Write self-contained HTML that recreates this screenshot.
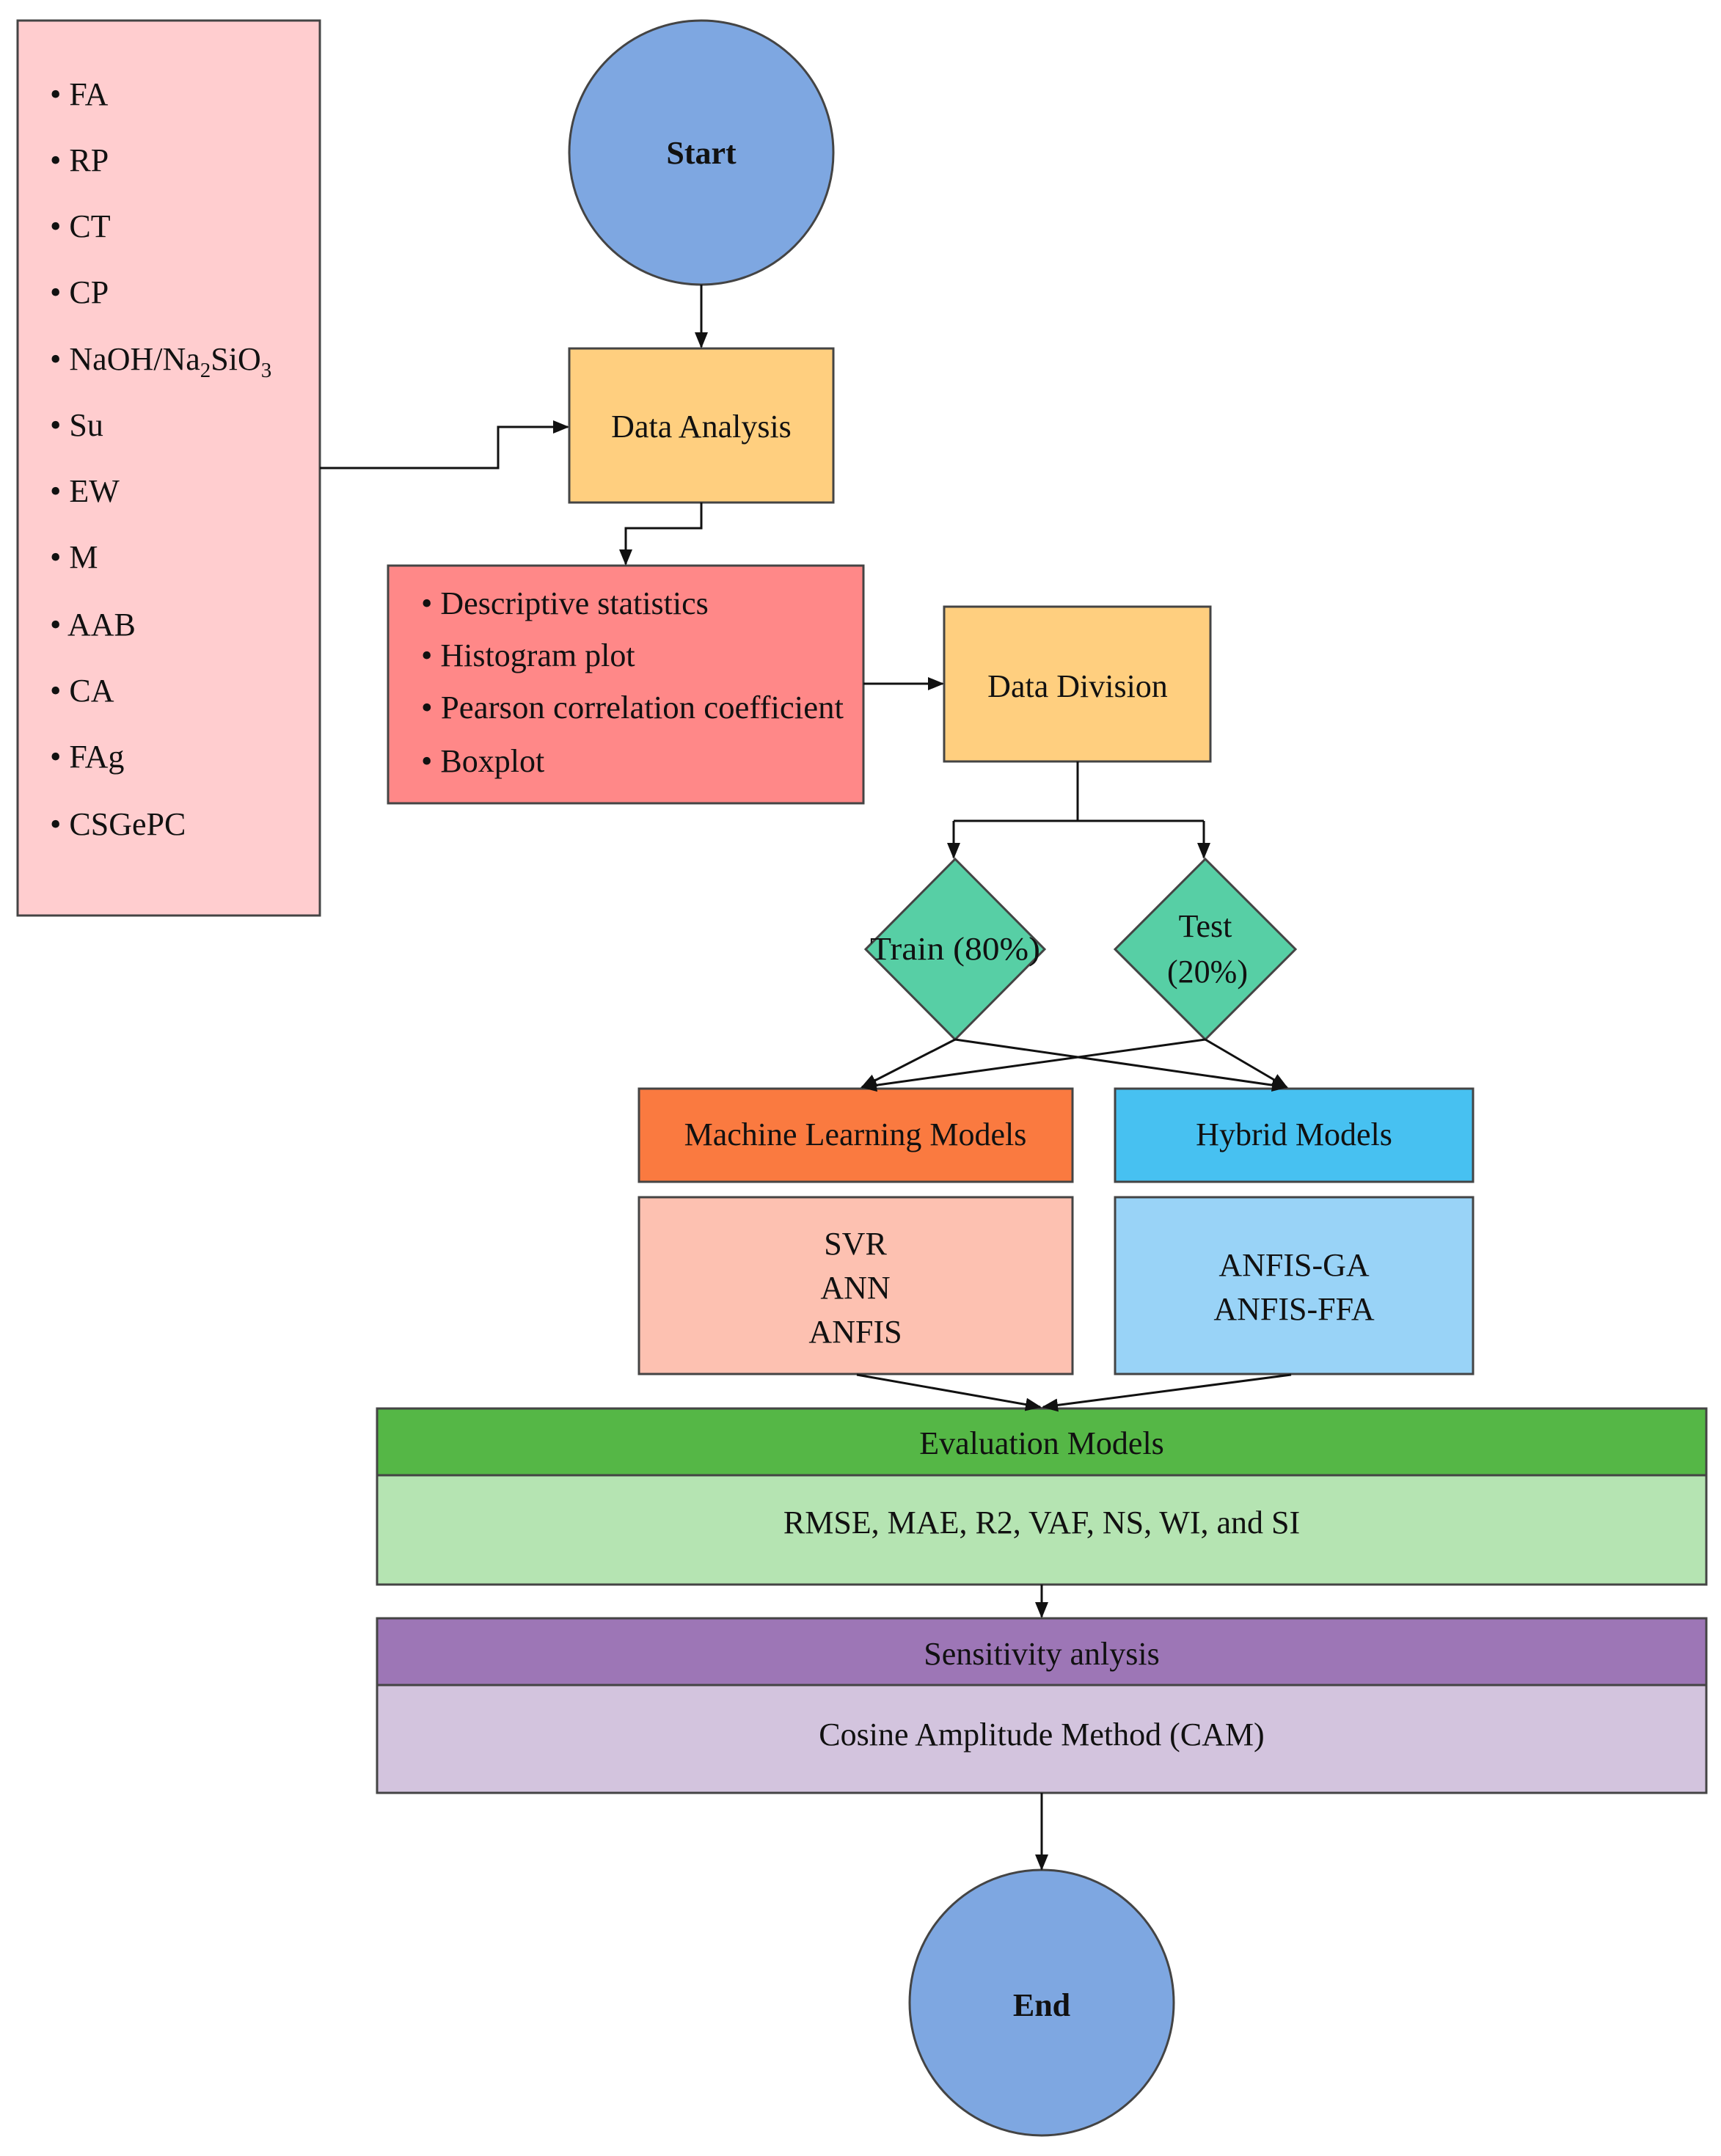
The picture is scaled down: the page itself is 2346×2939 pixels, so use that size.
<!DOCTYPE html>
<html><head><meta charset="utf-8"><style>
html,body{margin:0;padding:0;background:#fff;}
svg{display:block;}
text{font-family:"Liberation Serif",serif;fill:#111;}
</style></head><body>
<svg width="2346" height="2939" viewBox="0 0 2346 2939" xmlns="http://www.w3.org/2000/svg">
<defs>
<marker id="b" markerWidth="22" markerHeight="22" refX="20" refY="11" orient="auto" markerUnits="userSpaceOnUse" viewBox="0 0 22 22">
<path d="M0,2 L22,11 L0,20 z" fill="#111"/></marker>
</defs>
<g stroke="#444" stroke-width="3">
<rect x="24" y="28" width="412" height="1220" fill="#ffcdcf"/>
<circle cx="956" cy="208" r="180" fill="#7ea7e1"/>
<rect x="776" y="475" width="360" height="210" fill="#ffcf7f"/>
<rect x="529" y="771" width="648" height="324" fill="#ff8888"/>
<rect x="1287" y="827" width="363" height="211" fill="#ffcf7f"/>
<polygon points="1302,1171 1424,1294 1302,1417 1180,1294" fill="#57cfa5"/>
<polygon points="1643,1171 1766,1294 1643,1417 1520,1294" fill="#57cfa5"/>
<rect x="871" y="1484" width="591" height="127" fill="#fa7a40"/>
<rect x="1520" y="1484" width="488" height="127" fill="#47c1f1"/>
<rect x="871" y="1632" width="591" height="241" fill="#fdc1b1"/>
<rect x="1520" y="1632" width="488" height="241" fill="#99d3f7"/>
<rect x="514" y="1920" width="1812" height="91" fill="#55b746"/>
<rect x="514" y="2011" width="1812" height="149" fill="#b5e4b2"/>
<rect x="514" y="2206" width="1812" height="91" fill="#9d76b6"/>
<rect x="514" y="2297" width="1812" height="147" fill="#d3c4de"/>
<ellipse cx="1420" cy="2730" rx="180" ry="181" fill="#7ea7e1"/>
</g>
<g stroke="#111" stroke-width="3" fill="none">
<path d="M956,388 V473" marker-end="url(#b)"/>
<path d="M436,638 H679 V582 H774" marker-end="url(#b)"/>
<path d="M956,685 V720 H853 V769" marker-end="url(#b)"/>
<path d="M1177,932 H1285" marker-end="url(#b)"/>
<path d="M1469,1038 V1119 M1300,1119 H1641"/>
<path d="M1300,1119 V1169" marker-end="url(#b)"/>
<path d="M1641,1119 V1169" marker-end="url(#b)"/>
<path d="M1302,1417 L1175,1482" marker-end="url(#b)"/>
<path d="M1302,1417 L1754,1482" marker-end="url(#b)"/>
<path d="M1643,1417 L1175,1482" marker-end="url(#b)"/>
<path d="M1643,1417 L1754,1482" marker-end="url(#b)"/>
<path d="M1168,1874 L1418,1918" marker-end="url(#b)"/>
<path d="M1760,1874 L1422,1918" marker-end="url(#b)"/>
<path d="M1420,2160 V2204" marker-end="url(#b)"/>
<path d="M1420,2444 V2548" marker-end="url(#b)"/>
</g>
<g font-size="44">
<text x="68" y="143">• FA</text>
<text x="68" y="233">• RP</text>
<text x="68" y="323">• CT</text>
<text x="68" y="413">• CP</text>
<text x="68" y="504">• NaOH/Na<tspan font-size="29" dy="10">2</tspan><tspan dy="-10">SiO</tspan><tspan font-size="29" dy="10">3</tspan></text>
<text x="68" y="594">• Su</text>
<text x="68" y="684">• EW</text>
<text x="68" y="774">• M</text>
<text x="68" y="866">• AAB</text>
<text x="68" y="956">• CA</text>
<text x="68" y="1046">• FAg</text>
<text x="68" y="1138">• CSGePC</text>
<text x="956" y="223" text-anchor="middle" font-weight="bold">Start</text>
<text x="956" y="596" text-anchor="middle">Data Analysis</text>
<text x="574" y="837">• Descriptive statistics</text>
<text x="574" y="908">• Histogram plot</text>
<text x="574" y="979" textLength="576" lengthAdjust="spacingAndGlyphs">• Pearson correlation coefficient</text>
<text x="574" y="1052">• Boxplot</text>
<text x="1469" y="950" text-anchor="middle">Data Division</text>
<text x="1302" y="1308" text-anchor="middle" textLength="232" lengthAdjust="spacingAndGlyphs">Train (80%)</text>
<text x="1643" y="1277" text-anchor="middle">Test</text>
<text x="1646" y="1339" text-anchor="middle">(20%)</text>
<text x="1166" y="1561" text-anchor="middle">Machine Learning Models</text>
<text x="1764" y="1561" text-anchor="middle">Hybrid Models</text>
<text x="1166" y="1710" text-anchor="middle">SVR</text>
<text x="1166" y="1770" text-anchor="middle">ANN</text>
<text x="1166" y="1830" text-anchor="middle">ANFIS</text>
<text x="1764" y="1739" text-anchor="middle">ANFIS-GA</text>
<text x="1764" y="1799" text-anchor="middle">ANFIS-FFA</text>
<text x="1420" y="1982" text-anchor="middle">Evaluation Models</text>
<text x="1420" y="2090" text-anchor="middle">RMSE, MAE, R2, VAF, NS, WI, and SI</text>
<text x="1420" y="2269" text-anchor="middle">Sensitivity anlysis</text>
<text x="1420" y="2379" text-anchor="middle">Cosine Amplitude Method (CAM)</text>
<text x="1420" y="2748" text-anchor="middle" font-weight="bold">End</text>
</g>
</svg>
</body></html>
